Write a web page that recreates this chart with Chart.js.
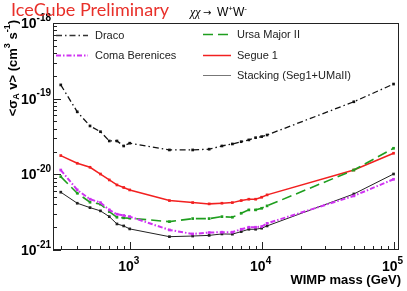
<!DOCTYPE html>
<html>
<head>
<meta charset="utf-8">
<script src="https://cdn.jsdelivr.net/npm/chart.js@4.4.1/dist/chart.umd.min.js"></script>
<style>
  body { margin: 0; background: #fff; }
  canvas { display: block; }
</style>
</head>
<body>
<canvas id="limits" width="407" height="291"></canvas>
<script>
// WIMP masses (GeV)
const masses = [300, 400, 500, 600, 700, 800, 900, 1000, 2000, 3000, 4000, 5000, 6000, 7000, 8000, 9000, 10000, 11000, 50000, 100000];

// <sigma_A v> upper limits (cm^3 s^-1)
const draco = [1.52e-19, 6.7e-20, 4.36e-20, 3.66e-20, 2.76e-20, 2.76e-20, 2.37e-20, 2.58e-20, 2.10e-20, 2.10e-20, 2.15e-20, 2.37e-20, 2.52e-20, 2.70e-20, 2.85e-20, 3.05e-20, 3.15e-20, 3.31e-20, 9.1e-20, 1.56e-19];
const comaBer = [1.14e-20, 6.22e-21, 4.69e-21, 4.23e-21, 3.39e-21, 2.97e-21, 2.86e-21, 2.76e-21, 1.84e-21, 1.63e-21, 1.70e-21, 1.72e-21, 1.72e-21, 1.88e-21, 2.0e-21, 2.0e-21, 2.04e-21, 2.25e-21, 5.19e-21, 8.6e-21];
const umaII = [9.33e-21, 5.63e-21, 4.28e-21, 4.03e-21, 3.22e-21, 2.71e-21, 2.66e-21, 2.63e-21, 2.37e-21, 2.60e-21, 2.60e-21, 2.76e-21, 2.71e-21, 3.06e-21, 3.39e-21, 3.39e-21, 3.56e-21, 3.83e-21, 1.14e-20, 2.21e-20];
const segue1 = [1.77e-20, 1.40e-20, 1.24e-20, 1.01e-20, 8.43e-21, 7.24e-21, 6.7e-21, 6.22e-21, 4.50e-21, 4.23e-21, 4.07e-21, 4.15e-21, 4.23e-21, 4.50e-21, 4.69e-21, 4.69e-21, 4.98e-21, 5.35e-21, 1.14e-20, 1.90e-20];
const stacking = [5.81e-21, 4.15e-21, 3.63e-21, 3.29e-21, 2.76e-21, 2.21e-21, 2.08e-21, 1.90e-21, 1.50e-21, 1.53e-21, 1.56e-21, 1.63e-21, 1.62e-21, 1.75e-21, 1.88e-21, 1.88e-21, 1.94e-21, 2.08e-21, 5.5e-21, 1.01e-20];

// axis labels
const yTickValues = [1e-21, 1e-20, 1e-19, 1e-18];
const yTickExps = ['-21', '-20', '-19', '-18'];
const xTickValues = [1e3, 1e4, 1e5];
const xTickExps = ['3', '4', '5'];

function pts(ys) {
  return masses.map((m, i) => ({ x: m, y: ys[i] }));
}

function series(label, ys, color, width, dash) {
  return {
    label: label,
    data: pts(ys),
    borderColor: color,
    backgroundColor: color,
    borderWidth: width,
    borderDash: dash,
    pointStyle: 'rect',
    pointRadius: 1.9,
    pointBorderWidth: 0,
    pointBackgroundColor: color,
    tension: 0
  };
}

// draw "10" with a superscript exponent
function drawPow(ctx, exp, x, y, align, size) {
  ctx.font = 'bold ' + size + 'px "Liberation Sans", Arial, sans-serif';
  const wb = ctx.measureText('10').width;
  ctx.font = 'bold ' + Math.round(size * 0.68) + 'px "Liberation Sans", Arial, sans-serif';
  const we = ctx.measureText(exp).width;
  let start = x;
  if (align === 'right') start = x - wb - we;
  if (align === 'center') start = x - (wb + we) / 2;
  ctx.textAlign = 'left';
  ctx.textBaseline = 'middle';
  ctx.fillStyle = '#000';
  ctx.font = 'bold ' + size + 'px "Liberation Sans", Arial, sans-serif';
  ctx.fillText('10', start, y);
  ctx.font = 'bold ' + Math.round(size * 0.68) + 'px "Liberation Sans", Arial, sans-serif';
  ctx.fillText(exp, start + wb, y - 6);
}

// pieces: [text, size, shift]
function drawRich(ctx, pieces, x, y, weight, family) {
  let cx = x;
  pieces.forEach(p => {
    ctx.font = weight + ' ' + p[1] + 'px ' + family;
    ctx.fillText(p[0], cx, y + p[2]);
    cx += ctx.measureText(p[0]).width;
  });
  return cx - x;
}
function richWidth(ctx, pieces, weight, family) {
  let w = 0;
  pieces.forEach(p => {
    ctx.font = weight + ' ' + p[1] + 'px ' + family;
    w += ctx.measureText(p[0]).width;
  });
  return w;
}

const decorations = {
  id: 'decorations',
  afterDraw(chart) {
    const ctx = chart.ctx;
    const a = chart.chartArea;
    const xs = chart.scales.x;
    const ys = chart.scales.y;
    ctx.save();

    // frame
    ctx.strokeStyle = '#222';
    ctx.lineWidth = 1;
    ctx.setLineDash([]);
    ctx.strokeRect(a.left + 0.5, a.top + 0.5, a.right - a.left - 1, a.bottom - a.top - 1);

    // y ticks (inside, left axis)
    ctx.beginPath();
    for (let e = -21; e <= -19; e++) {
      for (let k = 1; k <= 9; k++) {
        const v = k * Math.pow(10, e);
        const py = Math.round(ys.getPixelForValue(v)) + 0.5;
        const len = k === 1 ? 8 : 4;
        ctx.moveTo(a.left, py);
        ctx.lineTo(a.left + len, py);
      }
    }
    // x ticks (inside, bottom axis)
    for (let e = 2; e <= 5; e++) {
      for (let k = 1; k <= 9; k++) {
        const v = k * Math.pow(10, e);
        if (v < xs.min || v > xs.max) continue;
        const px = Math.round(xs.getPixelForValue(v)) + 0.5;
        const len = k === 1 ? 8 : 4;
        ctx.moveTo(px, a.bottom);
        ctx.lineTo(px, a.bottom - len);
      }
    }
    ctx.stroke();

    // tick labels
    yTickValues.forEach((v, i) => {
      drawPow(ctx, yTickExps[i], a.left - 2, ys.getPixelForValue(v) + 1, 'right', 14);
    });
    xTickValues.forEach((v, i) => {
      drawPow(ctx, xTickExps[i], xs.getPixelForValue(v) - 1, 267, 'center', 14);
    });

    // axis titles
    const sans = '"Liberation Sans", Arial, sans-serif';
    ctx.fillStyle = '#000';
    ctx.textBaseline = 'middle';
    ctx.font = 'bold 13px ' + sans;
    ctx.textAlign = 'right';
    ctx.fillText('WIMP mass (GeV)', a.right + 2, 280);
    ctx.textAlign = 'left';

    const yTitle = [['<σ', 13, 0], ['A', 9, 4], [' v> (cm', 13, 0], ['3', 9, -5], [' s', 13, 0], ['-1', 9, -5], [')', 13, 0]];
    const tw = richWidth(ctx, yTitle, 'bold', sans);
    ctx.save();
    ctx.translate(13, 20 + tw);
    ctx.rotate(-Math.PI / 2);
    drawRich(ctx, yTitle, 0, 0, 'bold', sans);
    ctx.restore();

    // header
    ctx.fillStyle = '#e8302a';
    ctx.font = '18px Lato, "Open Sans", sans-serif';
    const hw = ctx.measureText('IceCube Preliminary').width;
    ctx.save();
    ctx.translate(11, 10);
    ctx.scale(158 / hw, 1);
    ctx.fillText('IceCube Preliminary', 0, 0);
    ctx.restore();

    ctx.fillStyle = '#000';
    ctx.font = 'italic 12px "Liberation Serif", serif';
    ctx.fillText('χχ', 190, 13);
    ctx.font = '10px "DejaVu Sans", sans-serif';
    ctx.fillText('→', 203, 13);
    drawRich(ctx, [['W', 12, 0], ['+', 8, -4], ['W', 12, 0], ['-', 8, -4]], 217, 13, 'normal', sans);

    // legend
    const legendRows = [
      { ds: 0, x: 56, y: 35, lineColor: '#333' },
      { ds: 1, x: 56, y: 55, lineColor: null },
      { ds: 2, x: 203, y: 34, lineColor: null },
      { ds: 3, x: 203, y: 55, lineColor: null },
      { ds: 4, x: 203, y: 75, lineColor: '#777' }
    ];
    legendRows.forEach(r => {
      const d = chart.data.datasets[r.ds];
      const len = r.x < 100 ? 32 : 28;
      ctx.strokeStyle = r.lineColor || d.borderColor;
      ctx.lineWidth = d.borderWidth;
      ctx.setLineDash(d.borderDash || []);
      ctx.beginPath();
      ctx.moveTo(r.x, r.y + 0.5);
      ctx.lineTo(r.x + len, r.y + 0.5);
      ctx.stroke();
      ctx.setLineDash([]);
      ctx.fillStyle = '#222';
      ctx.font = '11px ' + sans;
      ctx.fillText(d.label, r.x < 100 ? 95 : 237, r.y + 1);
    });

    ctx.restore();
  }
};

new Chart(document.getElementById('limits').getContext('2d'), {
  type: 'line',
  data: {
    datasets: [
      series('Draco', draco, '#111', 1.3, [6, 3, 1.5, 3]),
      series('Coma Berenices', comaBer, '#cf33f2', 2, [5, 2, 1.5, 2]),
      series('Ursa Major II', umaII, '#1f9e1f', 1.6, [10, 5]),
      series('Segue 1', segue1, '#f22020', 1.5, []),
      series('Stacking (Seg1+UMaII)', stacking, '#222', 1, [])
    ]
  },
  options: {
    responsive: false,
    devicePixelRatio: 1,
    animation: false,
    layout: { padding: { left: 53, right: 8, top: 23, bottom: 41 } },
    plugins: { legend: { display: false }, tooltip: { enabled: false } },
    scales: {
      x: { type: 'logarithmic', min: 262, max: 110000, display: false },
      y: { type: 'logarithmic', min: 1e-21, max: 1e-18, display: false }
    }
  },
  plugins: [decorations]
});
</script>
</body>
</html>
